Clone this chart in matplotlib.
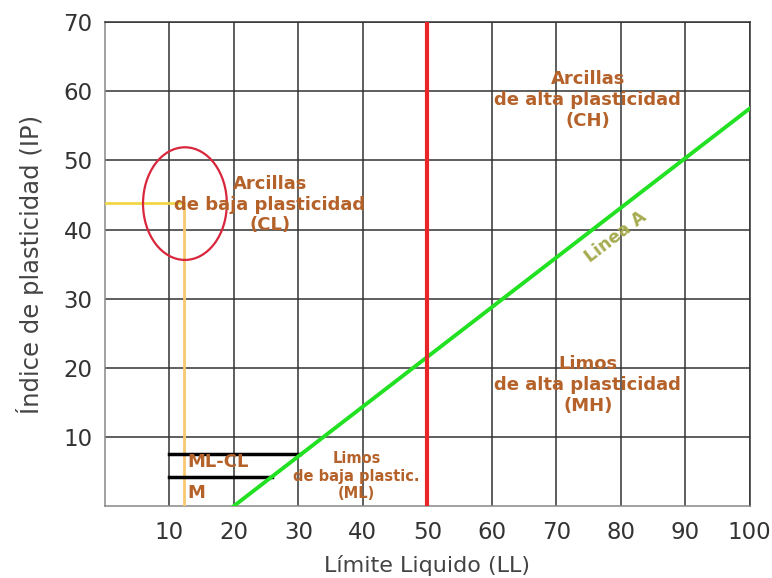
import matplotlib
matplotlib.use("Agg")
import matplotlib.pyplot as plt
from matplotlib.patches import Ellipse

# Casagrande plasticity chart
LINE_A_LL = [20, 100]
LINE_A_IP = [0, 57.5]
U_LIMIT_LL = 50
BAND_TOP = (7.5, [10, 30.2])      # IP, LL range
BAND_BOT = (4.2, [10, 25.9])
SAMPLE_LL = 12.2
SAMPLE_IP = 43.8
X_TICKS = [10, 20, 30, 40, 50, 60, 70, 80, 90, 100]
Y_TICKS = [10, 20, 30, 40, 50, 60, 70]

BROWN = "#b5622a"

fig = plt.figure(figsize=(7.72, 5.78), dpi=100)
ax = fig.add_axes([0.136, 0.1246, 0.835, 0.837])
ax.set_xlim(0, 100)
ax.set_ylim(0, 70)

ax.set_xticks(X_TICKS)
ax.set_yticks(Y_TICKS)
ax.tick_params(length=0, labelsize=16.5, labelcolor="#333333")
ax.tick_params(axis="x", pad=11)
ax.tick_params(axis="y", pad=9)
ax.grid(True, color="#333333", linewidth=1.1)
ax.set_axisbelow(True)
for s in ax.spines.values():
    s.set_color("#888888")
    s.set_linewidth(1.1)
ax.spines["top"].set_color("#333333")
ax.spines["right"].set_color("#333333")

ax.set_xlabel("Límite Liquido (LL)", fontsize=16, color="#444444", labelpad=8)
ax.set_ylabel("Índice de plasticidad (IP)", fontsize=17.5, color="#444444", labelpad=14)

# sample reading lines
ax.plot([0, SAMPLE_LL], [SAMPLE_IP, SAMPLE_IP], color="#f2d64a", lw=2, zorder=3)
ax.plot([SAMPLE_LL, SAMPLE_LL], [0, SAMPLE_IP], color="#f7c870", lw=2, zorder=3)

# ML-CL band
ax.plot(BAND_TOP[1], [BAND_TOP[0]] * 2, color="black", lw=2.5, zorder=4)
ax.plot(BAND_BOT[1], [BAND_BOT[0]] * 2, color="black", lw=2.5, zorder=4)

# line A and LL=50
ax.plot(LINE_A_LL, LINE_A_IP, color="#22e022", lw=2.8, zorder=5)
ax.axvline(U_LIMIT_LL, color="#e8262a", lw=3, zorder=5)

ax.add_patch(Ellipse((12.4, 43.75), 13.0, 16.3, fill=False,
                     edgecolor="#d9263c", lw=1.6, zorder=6))

kw = dict(color=BROWN, fontweight="bold", ha="center", va="center",
          linespacing=1.2, zorder=7)
ax.text(25.6, 43.6, "Arcillas\nde baja plasticidad\n(CL)", fontsize=13, **kw)
ax.text(74.9, 58.7, "Arcillas\nde alta plasticidad\n(CH)", fontsize=13, **kw)
ax.text(74.9, 17.5, "Limos\nde alta plasticidad\n(MH)", fontsize=13, **kw)
ax.text(39.0, 4.3, "Limos\nde baja plastic.\n(ML)", fontsize=10.5, **kw)
ax.text(12.8, 6.3, "ML-CL", fontsize=13, color=BROWN, fontweight="bold",
        ha="left", va="center", zorder=7)
ax.text(12.8, 1.9, "M", fontsize=13, color=BROWN, fontweight="bold",
        ha="left", va="center", zorder=7)
ax.text(79.3, 39.0, "Linea A", fontsize=12.5, color="#a6ab4e", fontweight="bold",
        rotation=37.5, ha="center", va="center", rotation_mode="anchor", zorder=7)

fig.savefig("out.png", dpi=100)
